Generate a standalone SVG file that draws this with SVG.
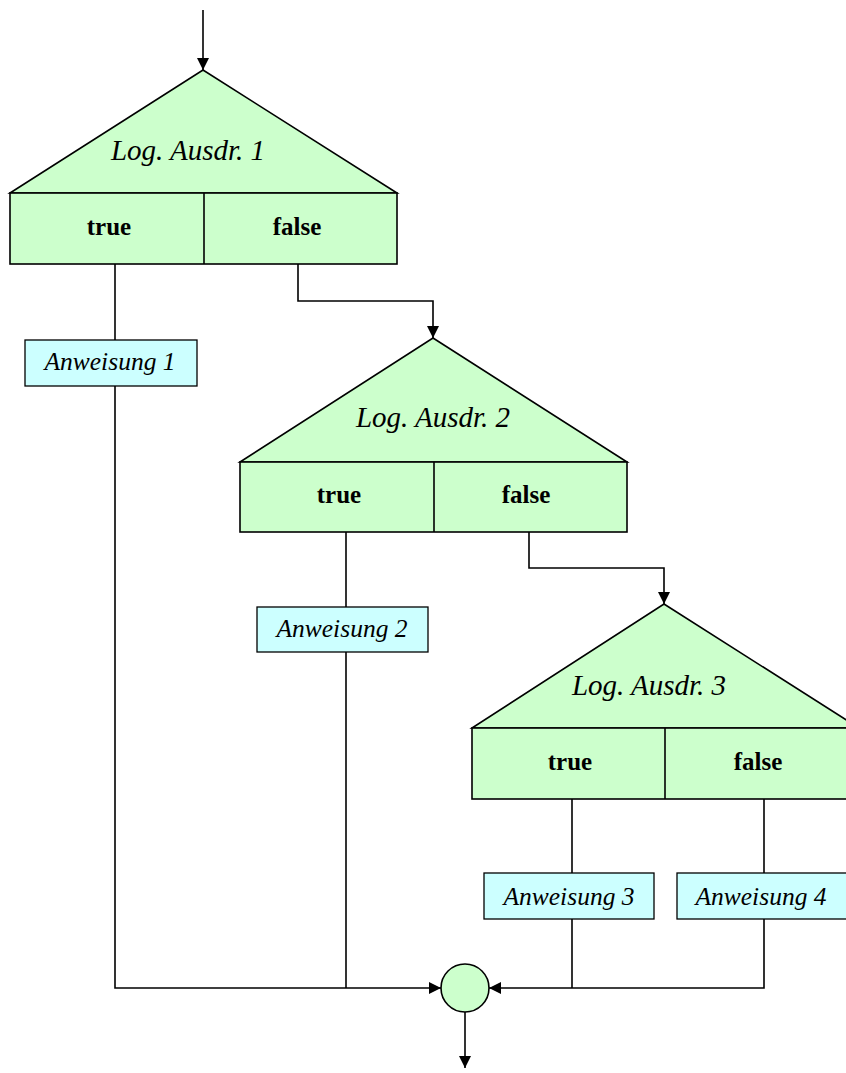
<svg xmlns="http://www.w3.org/2000/svg" width="846" height="1073" viewBox="0 0 846 1073">
<style>
.dec{fill:#CCFFCC;stroke:#000;stroke-width:1.6}
.stmt{fill:#CCFFFF;stroke:#000;stroke-width:1.3}
.ln{fill:none;stroke:#000;stroke-width:1.6}
.cond{font-family:"Liberation Serif",serif;font-style:italic;font-size:29px;text-anchor:middle}
.st{font-family:"Liberation Serif",serif;font-style:italic;font-size:25.5px;text-anchor:middle}
.lb{font-family:"Liberation Serif",serif;font-weight:bold;font-size:25px;text-anchor:middle}
</style>
<defs>
<marker id="ar" viewBox="0 0 12 12" refX="12" refY="6" markerWidth="12" markerHeight="12" markerUnits="userSpaceOnUse" orient="auto">
<path d="M0,0 L12,6 L0,12 Z" fill="#000"/>
</marker>
</defs>
<rect width="846" height="1073" fill="#fff"/>
<g id="connectors">
<path class="ln" d="M203,10 V70" marker-end="url(#ar)"/>
<path class="ln" d="M115,264 V340"/>
<path class="ln" d="M115,386 V988 H441" marker-end="url(#ar)"/>
<path class="ln" d="M298,264 V301 H433 V338" marker-end="url(#ar)"/>
<path class="ln" d="M346,532 V607"/>
<path class="ln" d="M346,652 V988"/>
<path class="ln" d="M529,532 V568 H664 V604" marker-end="url(#ar)"/>
<path class="ln" d="M572,797 V873"/>
<path class="ln" d="M572,919 V988"/>
<path class="ln" d="M764,799 V873"/>
<path class="ln" d="M764,919 V988 H489" marker-end="url(#ar)"/>
<path class="ln" d="M465,1012 V1068" marker-end="url(#ar)"/>
</g>
<g id="decision1">
<polygon class="dec" points="203,70 397,193 10,193"/>
<rect class="dec" x="10" y="193" width="387" height="71"/>
<line class="ln" x1="204" y1="193" x2="204" y2="264"/>
<text class="cond" x="188" y="160">Log. Ausdr. 1</text>
<text class="lb" x="109" y="235">true</text>
<text class="lb" x="297" y="235">false</text>
</g>
<g id="stmt1">
<rect class="stmt" x="25" y="340" width="172" height="46"/>
<text class="st" x="110" y="370">Anweisung 1</text>
</g>
<g id="decision2">
<polygon class="dec" points="433,338 627,462 240,462"/>
<rect class="dec" x="240" y="462" width="387" height="70"/>
<line class="ln" x1="434" y1="462" x2="434" y2="532"/>
<text class="cond" x="433" y="427">Log. Ausdr. 2</text>
<text class="lb" x="339" y="503">true</text>
<text class="lb" x="526" y="503">false</text>
</g>
<g id="stmt2">
<rect class="stmt" x="257" y="607" width="171" height="45"/>
<text class="st" x="342" y="637">Anweisung 2</text>
</g>
<g id="decision3">
<polygon class="dec" points="664,604 859,728 472,728"/>
<rect class="dec" x="472" y="728" width="387" height="71"/>
<line class="ln" x1="665" y1="728" x2="665" y2="799"/>
<text class="cond" x="649" y="695">Log. Ausdr. 3</text>
<text class="lb" x="570" y="770">true</text>
<text class="lb" x="758" y="770">false</text>
</g>
<g id="stmt3">
<rect class="stmt" x="484" y="873" width="170" height="46"/>
<text class="st" x="569" y="905">Anweisung 3</text>
</g>
<g id="stmt4">
<rect class="stmt" x="677" y="873" width="172" height="46"/>
<text class="st" x="761" y="905">Anweisung 4</text>
</g>
<g id="merge">
<circle class="dec" cx="465" cy="988" r="24"/>
</g>
</svg>
